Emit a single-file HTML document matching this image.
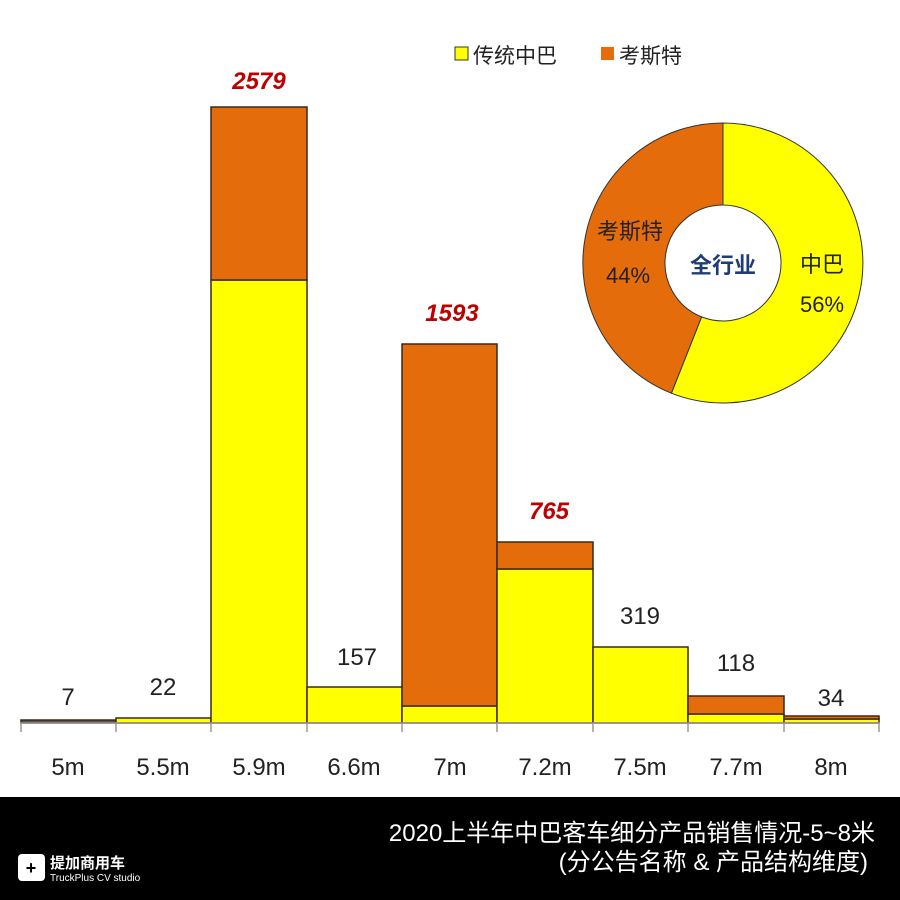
<!DOCTYPE html>
<html><head><meta charset="utf-8"><style>
body{margin:0;width:900px;height:900px;background:#fff;overflow:hidden;font-family:"Liberation Sans","Noto Sans CJK SC",sans-serif}
</style></head><body>
<svg width="900" height="900" xmlns="http://www.w3.org/2000/svg" style="position:absolute;left:0;top:0">
<g stroke="#3a2a1a" stroke-width="1.5">
<rect x="21" y="720" width="95" height="3" fill="#555"/>
<rect x="116" y="718" width="95" height="5" fill="#ffff00"/>
<rect x="211" y="280" width="96" height="443" fill="#ffff00"/>
<rect x="211" y="107" width="96" height="173" fill="#e46c0a"/>
<rect x="307" y="687" width="95" height="36" fill="#ffff00"/>
<rect x="402" y="706" width="95" height="17" fill="#ffff00"/>
<rect x="402" y="344" width="95" height="362" fill="#e46c0a"/>
<rect x="497" y="569" width="96" height="154" fill="#ffff00"/>
<rect x="497" y="542" width="96" height="27" fill="#e46c0a"/>
<rect x="593" y="647" width="95" height="76" fill="#ffff00"/>
<rect x="688" y="714" width="96" height="9" fill="#ffff00"/>
<rect x="688" y="696" width="96" height="18" fill="#e46c0a"/>
<rect x="784" y="719" width="95" height="4" fill="#ffff00"/>
<rect x="784" y="716" width="95" height="3" fill="#e46c0a"/>
</g>
<line x1="20" y1="723" x2="880" y2="723" stroke="#999" stroke-width="1.5"/>
<g stroke="#999" stroke-width="1.5">
<line x1="21" y1="723" x2="21" y2="732"/><line x1="116" y1="723" x2="116" y2="732"/><line x1="211" y1="723" x2="211" y2="732"/><line x1="307" y1="723" x2="307" y2="732"/><line x1="402" y1="723" x2="402" y2="732"/><line x1="497" y1="723" x2="497" y2="732"/><line x1="593" y1="723" x2="593" y2="732"/><line x1="688" y1="723" x2="688" y2="732"/><line x1="784" y1="723" x2="784" y2="732"/><line x1="879" y1="723" x2="879" y2="732"/>
</g>
<g font-size="24" fill="#222" text-anchor="middle">
<text x="68" y="775">5m</text><text x="163" y="775">5.5m</text><text x="259" y="775">5.9m</text><text x="354" y="775">6.6m</text><text x="450" y="775">7m</text><text x="545" y="775">7.2m</text><text x="640" y="775">7.5m</text><text x="736" y="775">7.7m</text><text x="831" y="775">8m</text>
<text x="68" y="705">7</text><text x="163" y="695">22</text><text x="357" y="665">157</text><text x="640" y="624">319</text><text x="736" y="671">118</text><text x="831" y="706">34</text>
</g>
<g font-size="24" fill="#c00000" text-anchor="middle" font-weight="bold" font-style="italic">
<text x="259" y="89">2579</text><text x="452" y="321">1593</text><text x="549" y="519">765</text>
</g>
<rect x="455" y="47" width="13" height="13" fill="#ffff00" stroke="#333"/>
<text x="473" y="63" font-size="21" fill="#222">传统中巴</text>
<rect x="601" y="47" width="13" height="13" fill="#e46c0a"/>
<text x="619" y="63" font-size="21" fill="#222">考斯特</text>
<path d="M723 123 A140 140 0 1 1 671.4 393.2 L701.6 316.9 A58 58 0 1 0 723 205 Z" fill="#ffff00" stroke="#333" stroke-width="1"/>
<path d="M671.4 393.2 A140 140 0 0 1 723 123 L723 205 A58 58 0 0 0 701.6 316.9 Z" fill="#e46c0a" stroke="#333" stroke-width="1"/>
<text x="723" y="273" font-size="22" font-weight="bold" fill="#1f3c78" text-anchor="middle">全行业</text>
<text x="822" y="272" font-size="22" fill="#222" text-anchor="middle">中巴</text>
<text x="822" y="312" font-size="22" fill="#222" text-anchor="middle">56%</text>
<text x="630" y="239" font-size="22" fill="#222" text-anchor="middle">考斯特</text>
<text x="628" y="283" font-size="22" fill="#222" text-anchor="middle">44%</text>
<rect x="0" y="797" width="900" height="103" fill="#000"/>
<text x="875" y="841" font-size="24" fill="#fff" text-anchor="end">2020上半年中巴客车细分产品销售情况-5~8米</text>
<text x="868" y="870" font-size="24" fill="#fff" text-anchor="end">(分公告名称 &amp; 产品结构维度)</text>
<rect x="18" y="854" width="27" height="27" rx="4" fill="#fff"/>
<text x="31" y="874" font-size="18" font-weight="bold" fill="#000" text-anchor="middle">+</text>
<text x="50" y="868" font-size="15" font-weight="bold" fill="#fff">提加商用车</text>
<text x="50" y="881" font-size="10" fill="#fff">TruckPlus CV studio</text>
</svg>
</body></html>
